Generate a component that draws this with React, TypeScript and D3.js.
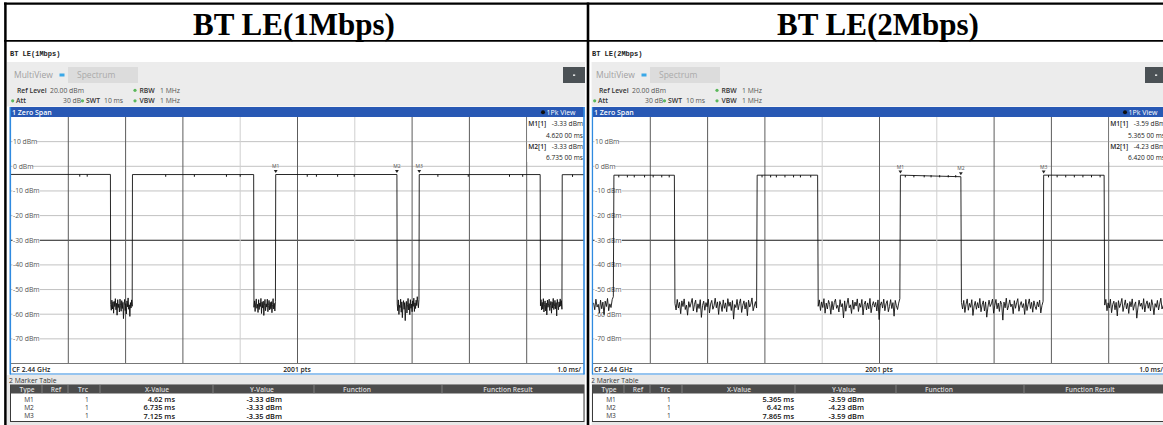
import React from "react";
import * as d3 from "d3";

// ---------------- data ----------------
const CELL_TITLES = ["BT LE(1Mbps)", "BT LE(2Mbps)"];
const SCREEN_TITLES = ["BT LE(1Mbps)", "BT LE(2Mbps)"];
const LEVEL_TICKS = [10, 0, -10, -20, -30, -40, -50, -60, -70];
const TIME_GRID = [1, 2, 3, 4, 5, 6, 7, 8, 9];
const LIGHT_TIME_GRID = [4, 6];
const DISPLAY_LINE = -30;
const TABLE_HEADERS = ["Type", "Ref", "Trc", "X-Value", "Y-Value", "Function", "Function Result"];
const MARKER_NAMES = ["M1", "M2", "M3"];
const MARKER_TRACES = [1, 1, 1];

// 1 Mbps trace: bursts [start, end] ms, levels dBm, noise floor samples (dBm) in gaps
const LE1M_BURSTS = [[0, 1.735], [2.12, 4.235], [4.62, 6.735], [7.125, 9.235], [9.62, 10]];
const LE1M_START_LV = [-3.3, -3.35, -3.33, -3.35, -3.4];
const LE1M_END_LV = [-3.3, -3.35, -3.33, -3.35, -3.4];
const LE1M_GAPS = [[1.735, 2.12], [4.235, 4.62], [6.735, 7.125], [9.235, 9.62]];
const LE1M_NOISE_1 = [-56.1, -58.4, -54.3, -57.9, -55.0, -59.6, -54.8, -56.9, -53.7, -58.2, -55.6, -60.4, -54.1, -57.3, -55.9, -59.1, -53.9, -56.6, -58.8, -54.5, -57.7, -55.2, -61.8, -56.4, -54.0, -58.5, -55.7, -59.9, -54.6, -57.0, -53.4, -58.0, -56.2, -60.9, -55.3, -57.5, -54.2, -56.8];
const LE1M_NOISE_2 = [-57.2, -54.6, -58.9, -55.4, -53.8, -57.6, -56.0, -59.3, -54.1, -58.1, -55.5, -56.9, -53.6, -59.7, -55.1, -57.4, -54.7, -60.5, -56.3, -54.0, -58.6, -55.8, -57.1, -53.9, -59.0, -56.5, -54.4, -58.3, -55.2, -57.8, -54.9, -59.4, -56.1, -53.7, -57.9, -55.6, -58.7, -54.8];
const LE1M_NOISE_3 = [-55.8, -58.6, -54.2, -60.1, -56.4, -57.3, -53.9, -59.2, -55.0, -61.4, -56.7, -54.5, -58.0, -55.3, -62.6, -57.1, -54.8, -59.5, -56.2, -53.6, -58.3, -55.7, -60.2, -54.1, -57.6, -55.9, -59.0, -54.6, -56.8, -53.5, -58.9, -55.4, -57.7, -54.3, -56.5, -52.9, -55.1, -57.4, -54.0];
const LE1M_NOISE_4 = [-56.6, -54.1, -58.3, -55.2, -57.9, -53.7, -59.1, -56.0, -54.6, -58.7, -55.5, -60.3, -54.3, -57.2, -55.8, -53.9, -58.5, -56.4, -54.8, -59.6, -55.1, -57.5, -53.6, -58.1, -56.9, -54.4, -57.8, -55.3, -60.7, -54.0, -56.3, -58.2, -55.0, -57.0, -53.8, -56.7, -54.5, -58.0];
const LE1M_DIPS = [1.2, 1.33, 2.7, 3.2, 3.76, 4.0, 5.17, 5.33, 5.7, 5.99, 7.45, 7.98, 8.7, 8.93, 9.8];
const LE1M_MARKER_X = [4.62, 6.735, 7.125];
const LE1M_MARKER_Y = [-3.33, -3.33, -3.35];

// 2 Mbps trace
const LE2M_BURSTS = [[0.365, 1.42], [2.865, 3.92], [5.365, 6.42], [7.865, 8.92]];
const LE2M_START_LV = [-3.6, -3.6, -3.59, -3.59];
const LE2M_END_LV = [-3.62, -3.6, -4.23, -3.62];
const LE2M_GAPS = [[0, 0.365], [1.42, 2.865], [3.92, 5.365], [6.42, 7.865], [8.92, 10]];
const LE2M_NOISE_0 = [-55.4, -58.2, -53.9, -57.1, -56.0, -59.4, -54.3, -57.8, -55.1, -60.2, -54.7, -56.9, -53.6, -58.6, -55.8, -57.3, -54.1, -52.9];
const LE2M_NOISE_1 = [-55.6, -58.3, -54.0, -57.5, -55.2, -59.8, -54.6, -56.9, -53.8, -58.1, -56.3, -60.4, -54.9, -57.2, -55.5, -53.6, -58.7, -56.0, -54.3, -59.2,
  -55.8, -57.7, -54.1, -61.3, -56.5, -54.7, -58.4, -55.3, -57.0, -53.9, -59.5, -55.9, -54.4, -58.0, -56.6, -53.5, -57.4, -55.0, -60.1, -54.8,
  -56.2, -58.9, -54.2, -57.6, -55.4, -59.0, -53.7, -56.8, -55.1, -58.5, -54.5, -62.0, -56.1, -57.3, -54.0, -58.2, -55.7, -53.8, -59.3, -56.4,
  -54.6, -57.9, -55.2, -60.6, -54.3, -57.1, -55.9, -53.4, -58.6, -56.7, -54.9, -57.5];
const LE2M_NOISE_2 = [-56.8, -54.2, -58.5, -55.0, -57.3, -53.7, -59.6, -55.5, -57.9, -54.4, -56.1, -60.0, -54.8, -58.2, -55.3, -53.9, -57.6, -56.4, -59.1, -54.1,
  -57.0, -55.7, -61.5, -54.6, -58.8, -55.9, -53.5, -57.4, -56.2, -59.7, -54.3, -58.0, -55.1, -56.7, -53.8, -58.9, -55.6, -57.2, -54.0, -60.3,
  -56.0, -54.7, -58.3, -55.4, -57.8, -53.6, -59.4, -56.5, -54.9, -57.1, -55.2, -58.7, -54.2, -62.2, -56.3, -55.0, -57.5, -53.9, -58.6, -55.8,
  -54.5, -59.0, -56.9, -54.1, -57.7, -55.3, -60.8, -54.4, -56.6, -58.1, -55.5, -53.7];
const LE2M_NOISE_3 = [-55.2, -57.9, -54.4, -59.3, -56.0, -53.8, -58.4, -55.6, -57.2, -54.1, -60.5, -56.7, -54.8, -58.0, -55.3, -57.5, -53.6, -59.0, -56.2, -54.6,
  -58.7, -55.0, -61.2, -57.1, -54.3, -56.9, -55.8, -53.9, -59.6, -56.4, -54.0, -57.8, -55.5, -58.9, -54.7, -56.1, -62.4, -55.1, -57.4, -53.5,
  -58.3, -56.6, -54.2, -57.0, -55.9, -59.8, -54.5, -57.6, -55.4, -53.7, -58.8, -56.3, -54.9, -57.3, -55.7, -60.1, -54.0, -58.5, -56.0, -53.8,
  -57.7, -55.2, -59.2, -54.6, -56.8, -58.1, -55.0, -57.0, -54.3, -59.5, -56.5, -54.8];
const LE2M_NOISE_4 = [-56.3, -54.0, -58.6, -55.4, -57.5, -53.9, -59.4, -56.1, -54.7, -58.2, -55.2, -60.7, -54.5, -57.3, -55.8, -53.6, -58.9, -56.5, -54.2, -57.8,
  -55.6, -59.7, -54.9, -57.0, -53.8, -58.4, -56.2, -55.0, -61.6, -57.4, -54.3, -56.8, -55.5, -58.0, -53.7, -59.1, -56.0, -54.6, -57.6, -55.3,
  -58.7, -54.1, -56.4, -60.2, -55.7, -57.2, -54.4, -58.3, -55.9, -53.5, -57.9, -56.6, -54.8, -57.1];
const LE2M_DIPS = [0.45, 0.6, 0.72, 0.9, 1.05, 1.2, 1.33, 2.95, 3.1, 3.2, 3.35, 3.5, 3.62, 3.8, 5.45, 5.6, 5.78, 5.9, 6.05, 6.2, 6.33, 7.95, 8.1, 8.25, 8.4, 8.55, 8.7, 8.85];
const LE2M_MARKER_X = [5.365, 6.42, 7.865];
const LE2M_MARKER_Y = [-3.59, -4.23, -3.59];

// ---------------- layout / style ----------------
const W = 1163;
const H = 425;
const UI = "'Open Sans', 'Noto Sans', sans-serif";
const MONO = "'Liberation Mono', 'DejaVu Sans Mono', monospace";
const SERIF = "'Liberation Serif', 'Times New Roman', serif";
const BLUE_BAR = "#2858b4";
const BLUE_FRAME = "#2f8ae0";
const GREEN = "#5cb85c";

const HEADER_X = [27, 56, 83, 157, 262, 357, 508];
const HEADER_SEPS = [42, 68, 100, 213, 314, 442];

function infoTime(t: number) {
  const s = t.toFixed(5);
  return s.slice(0, s.length - 2) + " " + s.slice(-2) + " ms";
}

type PanelProps = {
  dx: number;
  shotTitle: string;
  bursts: number[][];
  startLv: number[];
  endLv: number[];
  gaps: number[][];
  noise: number[][];
  dips: number[];
  mx: number[];
  my: number[];
  xValRight: number;
  clipId: string;
  clipLeft: number;
};

function Panel(p: PanelProps) {
  const x = d3.scaleLinear().domain([0, 10]).range([11, 584]);
  const y = d3.scaleLinear().domain([20, -80]).range([117, 363.5]);

  const pts: [number, number][] = [];
  p.bursts.forEach((b, i) => {
    pts.push([b[0], p.startLv[i]]);
    pts.push([b[1], p.endLv[i]]);
  });
  p.gaps.forEach((g, i) => {
    const v = p.noise[i];
    const n = v.length;
    v.forEach((d, j) => pts.push([g[0] + ((j + 0.5) * (g[1] - g[0])) / n, d]));
  });
  pts.sort((a, b) => a[0] - b[0]);
  const line = d3.line<[number, number]>().x((d) => x(d[0])).y((d) => y(d[1]));
  const levelAt = (t: number) => {
    const i = p.bursts.findIndex((b) => t >= b[0] && t <= b[1]);
    return i >= 0 ? p.startLv[i] : -3.4;
  };

  const smallTxt = { fontFamily: UI, fontSize: 6.8 } as const;

  return (
    <g transform={`translate(${p.dx},0)`} clipPath={`url(#${p.clipId})`}>
      <defs>
        <clipPath id={p.clipId}>
          <rect x={p.clipLeft} y={41.8} width={600} height={400} />
        </clipPath>
      </defs>
      <rect x={7} y={42} width={579} height={383} fill="#fff" />
      <text x={10} y={55.5} fontFamily={MONO} fontWeight={700} fontSize={7} fill="#222">
        {p.shotTitle}
      </text>

      {/* toolbar */}
      <rect x={7} y={62} width={578} height={44.5} fill="#ececec" />
      <text x={14} y={78.2} fontFamily={UI} fontSize={8.5} fill="#a0a0a0">MultiView</text>
      <rect x={59.5} y={73.5} width={5} height={3} fill="#3aa8e8" />
      <rect x={68} y={67} width={70} height={16} fill="#dcdcdc" />
      <text x={77} y={78.2} fontFamily={UI} fontSize={8.5} fill="#ababab">Spectrum</text>
      <rect x={563} y={67} width={22} height={16} fill="#4b5155" />
      <rect x={573} y={74.5} width={2.2} height={1.3} fill="#fff" />

      <text x={17} y={92.6} {...smallTxt} fontWeight={600} fill="#333">Ref Level</text>
      <text x={50} y={92.6} {...smallTxt} fill="#555">20.00 dBm</text>
      <circle cx={135} cy={90.3} r={1.6} fill={GREEN} />
      <text x={139.5} y={92.6} {...smallTxt} fontWeight={600} fill="#333">RBW</text>
      <text x={160} y={92.6} {...smallTxt} fill="#555">1 MHz</text>

      <circle cx={12.7} cy={100.8} r={1.6} fill={GREEN} />
      <text x={16} y={103.1} {...smallTxt} fontWeight={600} fill="#333">Att</text>
      <text x={63} y={103.1} {...smallTxt} fill="#555">30 dB</text>
      <circle cx={82.5} cy={100.8} r={1.6} fill={GREEN} />
      <text x={86} y={103.1} {...smallTxt} fontWeight={600} fill="#333">SWT</text>
      <text x={104} y={103.1} {...smallTxt} fill="#555">10 ms</text>
      <circle cx={135} cy={100.8} r={1.6} fill={GREEN} />
      <text x={139.5} y={103.1} {...smallTxt} fontWeight={600} fill="#333">VBW</text>
      <text x={160} y={103.1} {...smallTxt} fill="#555">1 MHz</text>

      {/* title bar */}
      <rect x={10} y={107} width={574.5} height={10} fill={BLUE_BAR} />
      <text x={12} y={114.8} fontFamily={UI} fontSize={7} fontWeight={600} fill="#fff">1 Zero Span</text>
      <circle cx={543} cy={112.2} r={2} fill="#111" />
      <text x={546.5} y={114.8} fontFamily={UI} fontSize={7} fill="#fff">1Pk View</text>

      {/* plot */}
      <rect x={11} y={117} width={573} height={246.5} fill="#fff" />
      {LEVEL_TICKS.map((v) => (
        <line key={"h" + v} x1={11} x2={584} y1={y(v)} y2={y(v)}
          stroke={v === DISPLAY_LINE ? "#1a1a1a" : "#c2c2c2"} strokeWidth={1} />
      ))}
      {TIME_GRID.map((t) => (
        <line key={"v" + t} x1={x(t)} x2={x(t)} y1={117} y2={363.5}
          stroke={LIGHT_TIME_GRID.includes(t) ? "#cfcfcf" : "#5c5c5c"} strokeWidth={1} />
      ))}
      <line x1={11} x2={584} y1={363.5} y2={363.5} stroke="#777" strokeWidth={1} />

      {/* marker info box */}
      <rect x={x(9) + 0.5} y={117} width={584 - x(9) - 0.5} height={45} fill="#fff" />
      <line x1={x(9)} x2={584} y1={y(10)} y2={y(10)} stroke="#c8c8c8" strokeWidth={1} />
      {[0, 1].map((i) => (
        <g key={"info" + i}>
          <text x={x(9) + 1.5} y={125.5 + i * 23.5} fontFamily={UI} fontSize={6.6} fontWeight={600} fill="#222">
            {`${MARKER_NAMES[i]}[${MARKER_TRACES[i]}]`}
          </text>
          <text x={583} y={125.5 + i * 23.5} textAnchor="end" fontFamily={UI} fontSize={6.6} fill="#222">
            {`${p.my[i].toFixed(2)} dBm`}
          </text>
          <text x={583} y={138 + i * 21.5} textAnchor="end" fontFamily={UI} fontSize={6.6} fill="#222">
            {infoTime(p.mx[i])}
          </text>
        </g>
      ))}

      {/* level labels */}
      {LEVEL_TICKS.map((v) => {
        const label = `${v} dBm`;
        return (
          <g key={"l" + v}>
            <rect x={12.5} y={y(v) - 3.5} width={label.length * 3.75 + 1} height={7} fill="#fff" />
            <text x={13} y={y(v) + 2.4} fontFamily={UI} fontSize={6.8} fill="#555">{label}</text>
          </g>
        );
      })}

      {/* trace */}
      <path d={line(pts) || ""} fill="none" stroke="#111" strokeWidth={0.9} strokeLinejoin="round" />
      {p.dips.map((t) => (
        <line key={"d" + t} x1={x(t)} x2={x(t)} y1={y(levelAt(t))} y2={y(levelAt(t) - 0.9)}
          stroke="#111" strokeWidth={1} />
      ))}

      {/* markers */}
      {p.mx.map((t, i) => {
        const cx = x(t);
        const ty = y(p.my[i]) - 1.6;
        return (
          <g key={"m" + i}>
            <path d={`M${cx - 1.9},${ty - 3} L${cx + 1.9},${ty - 3} L${cx},${ty} Z`} fill="#222" />
            <text x={cx} y={ty - 4.8} textAnchor="middle" fontFamily={UI} fontSize={5} fill="#555">
              {MARKER_NAMES[i]}
            </text>
          </g>
        );
      })}

      {/* footer row */}
      <rect x={11} y={364} width={573} height={10} fill="#fff" />
      <text x={12} y={371.6} fontFamily={UI} fontSize={6.8} fontWeight={600} fill="#222">CF 2.44 GHz</text>
      <text x={297} y={371.6} textAnchor="middle" fontFamily={UI} fontSize={6.8} fontWeight={600} fill="#222">2001 pts</text>
      <text x={581} y={371.6} textAnchor="end" fontFamily={UI} fontSize={6.8} fontWeight={600} fill="#222">1.0 ms/</text>

      {/* blue frame */}
      <line x1={10.3} x2={10.3} y1={107} y2={374.5} stroke={BLUE_FRAME} strokeWidth={1.6} />
      <line x1={584} x2={584} y1={107} y2={374.5} stroke={BLUE_FRAME} strokeWidth={1.6} />
      <line x1={10} x2={584.5} y1={374} y2={374} stroke={BLUE_FRAME} strokeWidth={1.2} />

      {/* marker table */}
      <rect x={7} y={375} width={578} height={50} fill="#e8e8e8" />
      <text x={9} y={382.6} fontFamily={UI} fontSize={6.8} fill="#333">2 Marker Table</text>
      <rect x={10.5} y={385} width={573.5} height={36.5} fill="#fff" stroke="#3a3a3a" strokeWidth={1} />
      <rect x={10.5} y={385} width={573.5} height={8.5} fill="#4c4c4c" />
      {HEADER_SEPS.map((sx) => (
        <line key={"s" + sx} x1={sx} x2={sx} y1={385} y2={393.5} stroke="#8a8a8a" strokeWidth={0.8} />
      ))}
      {TABLE_HEADERS.map((h, i) => (
        <text key={h} x={HEADER_X[i]} y={391.6} textAnchor="middle" fontFamily={UI} fontSize={6.6}
          fontWeight={600} fill="#dedede">{h}</text>
      ))}
      {MARKER_NAMES.map((m, i) => {
        const by = 401.8 + i * 8.3;
        return (
          <g key={"r" + m}>
            <text x={29} y={by} textAnchor="middle" fontFamily={UI} fontSize={6.6} fill="#333">{m}</text>
            <text x={87} y={by} textAnchor="middle" fontFamily={UI} fontSize={6.6} fill="#333">{MARKER_TRACES[i]}</text>
            <text x={p.xValRight} y={by + 0.3} textAnchor="end" fontFamily={UI} fontSize={7.4} fontWeight={600} fill="#111">
              {`${p.mx[i]} ms`}
            </text>
            <text x={282} y={by + 0.3} textAnchor="end" fontFamily={UI} fontSize={7.4} fontWeight={600} fill="#111">
              {`${p.my[i].toFixed(2)} dBm`}
            </text>
          </g>
        );
      })}
    </g>
  );
}

export default function App() {
  return (
    <svg width={W} height={H} viewBox={`0 0 ${W} ${H}`}
      style={{ position: "absolute", left: 0, top: 0, background: "#fff" }}>
      <rect x={0} y={0} width={W} height={H} fill="#fff" />
      <Panel dx={0} shotTitle={SCREEN_TITLES[0]} bursts={LE1M_BURSTS} startLv={LE1M_START_LV}
        endLv={LE1M_END_LV} gaps={LE1M_GAPS}
        noise={[LE1M_NOISE_1, LE1M_NOISE_2, LE1M_NOISE_3, LE1M_NOISE_4]} dips={LE1M_DIPS}
        mx={LE1M_MARKER_X} my={LE1M_MARKER_Y} xValRight={175} clipId="clipL" clipLeft={0} />
      <Panel dx={582} shotTitle={SCREEN_TITLES[1]} bursts={LE2M_BURSTS} startLv={LE2M_START_LV}
        endLv={LE2M_END_LV} gaps={LE2M_GAPS}
        noise={[LE2M_NOISE_0, LE2M_NOISE_1, LE2M_NOISE_2, LE2M_NOISE_3, LE2M_NOISE_4]} dips={LE2M_DIPS}
        mx={LE2M_MARKER_X} my={LE2M_MARKER_Y} xValRight={212} clipId="clipR" clipLeft={9.6} />

      {/* outer table */}
      <text x={294} y={35} textAnchor="middle" fontFamily={SERIF} fontWeight={700} fontSize={31} fill="#000">
        {CELL_TITLES[0]}
      </text>
      <text x={878} y={35} textAnchor="middle" fontFamily={SERIF} fontWeight={700} fontSize={31} fill="#000">
        {CELL_TITLES[1]}
      </text>
      <line x1={4} x2={W} y1={3.6} y2={3.6} stroke="#000" strokeWidth={2.2} />
      <line x1={5.4} x2={5.4} y1={2.5} y2={H} stroke="#000" strokeWidth={2.5} />
      <line x1={4} x2={W} y1={40.8} y2={40.8} stroke="#000" strokeWidth={1.7} />
      <line x1={588} x2={588} y1={2.5} y2={H} stroke="#000" strokeWidth={2.6} />
    </svg>
  );
}
